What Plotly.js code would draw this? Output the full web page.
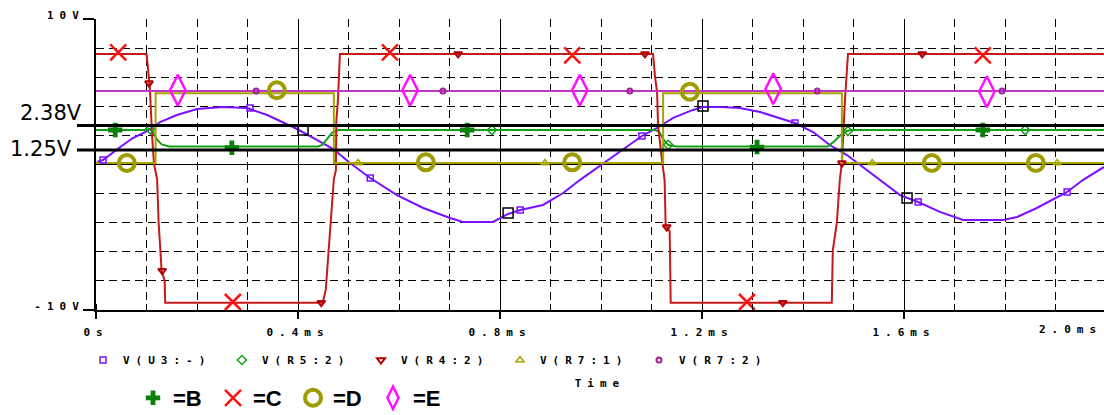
<!DOCTYPE html>
<html>
<head>
<meta charset="utf-8">
<script src="https://cdn.plot.ly/plotly-3.0.1.min.js"></script>
<style>
  html, body { margin: 0; padding: 0; background: #ffffff; }
  #chart { width: 1104px; height: 415px; }
  .xtick text, .ytick text, .g-xtitle text, .legend .legendtext { letter-spacing: 6px; }
  .annotation[data-index="2"] text { letter-spacing: 6px; }
</style>
</head>
<body>
<div id="chart"></div>
<script>
// ---------- x tick labels ----------
const tickVals = [0, 0.4, 0.8, 1.2, 1.6];
const tickText = ['0s', '0.4ms', '0.8ms', '1.2ms', '1.6ms'];

// ---------- V(U3:-) purple (time in ms, volts) ----------
const purpleT = [0.002, 0.014, 0.048, 0.073, 0.101, 0.127, 0.160, 0.200, 0.251, 0.299, 0.339, 0.370, 0.398, 0.438, 0.463, 0.477, 0.503, 0.543, 0.596, 0.648, 0.701, 0.727, 0.786, 0.816, 0.840, 0.885, 0.925, 0.958, 0.998, 1.038, 1.081, 1.111, 1.143, 1.182, 1.202, 1.236, 1.275, 1.315, 1.354, 1.384, 1.420, 1.453, 1.487, 1.513, 1.552, 1.592, 1.628, 1.671, 1.717, 1.796, 1.824, 1.863, 1.923, 1.954, 1.996];
const purpleV = [0.17, 0.31, 1.20, 1.82, 2.30, 2.92, 3.40, 3.81, 3.95, 3.88, 3.40, 2.92, 2.44, 1.68, 1.20, 0.86, 0.10, -0.93, -2.10, -2.99, -3.68, -3.95, -3.95, -3.40, -3.13, -2.78, -1.96, -1.07, -0.10, 0.86, 1.96, 2.51, 3.20, 3.75, 3.95, 3.95, 3.88, 3.61, 3.20, 2.85, 2.23, 1.34, 0.65, -0.03, -1.07, -2.10, -2.58, -3.26, -3.81, -3.81, -3.61, -2.99, -1.89, -1.07, -0.17];
const purpleMarkT = [0.014, 0.305, 0.543, 0.840, 1.081, 1.384, 1.628, 1.923];
const purpleMarkV = [0.31, 3.88, -0.93, -3.13, 1.96, 2.85, -2.58, -1.89];
const purpleBoxT = [0.410, 0.816, 1.202, 1.606];
const purpleBoxV = [2.37, -3.33, 4.02, -2.30];

// ---------- V(R5:2) green (B) ----------
const greenT = [0, 0.097, 0.105, 0.112, 0.121, 0.130, 0.145, 0.440, 0.448, 0.458, 0.468, 0.480, 1.108, 1.115, 1.124, 1.133, 1.150, 1.449, 1.462, 1.475, 1.486, 1.497, 1.996];
const greenV = [2.37, 2.37, 2.45, 2.30, 1.70, 1.38, 1.24, 1.24, 1.35, 1.80, 2.20, 2.37, 2.37, 2.25, 1.70, 1.35, 1.24, 1.24, 1.60, 2.05, 2.30, 2.37, 2.37];
const greenMarkT = [0.107, 0.784, 1.133, 1.489, 1.840];
const greenMarkV = [2.42, 2.37, 1.35, 2.30, 2.37];
const bSymT = [0.038, 0.269, 0.735, 1.309, 1.756];
const bSymV = [2.37, 1.15, 2.37, 1.20, 2.37];

// ---------- V(R4:2) red (C) ----------
const redT = [0, 0.100, 0.103, 0.107, 0.111, 0.115, 0.121, 0.124, 0.130, 0.136, 0.137, 0.449, 0.455, 0.461, 0.471, 0.475, 0.476, 0.479, 0.483, 1.103, 1.107, 1.111, 1.113, 1.120, 1.126, 1.128, 1.136, 1.138, 1.457, 1.459, 1.467, 1.473, 1.477, 1.483, 1.489, 1.996];
const redV = [7.6, 7.6, 6.6, 5.0, 2.0, 0.0, -1.0, -4.0, -7.3, -8.0, -9.5, -9.5, -8.6, -5.5, -1.0, -0.4, 3.0, 4.4, 7.6, 7.6, 6.0, 5.0, 2.7, 0.5, -1.1, -4.2, -4.6, -9.5, -9.5, -5.9, -4.0, -1.0, 0.1, 4.4, 7.6, 7.6];
const redMarkT = [0.105, 0.131, 0.446, 0.717, 1.087, 1.130, 1.360, 1.477, 1.636];
const redMarkV = [5.6, -7.3, -9.5, 7.6, 7.6, -4.3, -9.5, 0.1, 7.6];
const cSymT = [0.044, 0.271, 0.582, 0.943, 1.289, 1.756];
const cSymV = [7.7, -9.45, 7.7, 7.5, -9.45, 7.5];

// ---------- V(R7:1) olive (D) ----------
const oliveT = [0, 0.118, 0.118, 0.471, 0.471, 1.123, 1.123, 1.477, 1.477, 1.996];
const oliveV = [0.1, 0.1, 4.9, 4.9, 0.1, 0.1, 4.9, 4.9, 0.1, 0.1];
const oliveMarkT = [0.519, 0.889, 1.537, 1.903];
const oliveMarkV = [0.1, 0.1, 0.1, 0.1];
const dSymT = [0.061, 0.358, 0.653, 0.943, 1.176, 1.655, 1.861];
const dSymV = [0.1, 5.1, 0.15, 0.15, 5.0, 0.1, 0.1];

// ---------- V(R7:2) magenta (E) ----------
const magT = [0, 1.996];
const magV = [5.05, 5.05];
const magMarkT = [0.317, 0.687, 1.057, 1.428, 1.794];
const magMarkV = [5.05, 5.05, 5.05, 5.05, 5.05];
const eSymT = [0.162, 0.622, 0.958, 1.341, 1.764];
const eSymV = [5.1, 5.1, 5.1, 5.2, 5.0];

// ---------- colours ----------
const cPurple = '#7a10ff', cGreen = '#14a014', cRed = '#c41a1a', cOlive = '#a6a400', cMag = '#c036c0';

function line(x, y, color) {
  return {x: x, y: y, type: 'scatter', mode: 'lines', line: {color: color, width: 2}, showlegend: false, hoverinfo: 'skip'};
}
function marks(x, y, name, marker, legend) {
  return {x: x, y: y, type: 'scatter', mode: 'markers', name: name, marker: marker, showlegend: !!name, legend: legend || 'legend', hoverinfo: 'skip'};
}

const data = [
  line(purpleT, purpleV, cPurple),
  line(greenT, greenV, cGreen),
  line(redT, redV, cRed),
  line(oliveT, oliveV, cOlive),
  line(magT, magV, cMag),
  marks(purpleBoxT, purpleBoxV, '', {symbol: 'square-open', size: 10, color: '#000', line: {width: 1.5, color: '#000'}}),
  marks(purpleMarkT, purpleMarkV, 'V(U3:-)', {symbol: 'square-open', size: 6, color: cPurple, line: {width: 1.5, color: cPurple}}),
  marks(greenMarkT, greenMarkV, 'V(R5:2)', {symbol: 'diamond-open', size: 7, color: cGreen, line: {width: 1.5, color: cGreen}}),
  marks(redMarkT, redMarkV, 'V(R4:2)', {symbol: 'triangle-down-open', size: 7, color: '#b00000', line: {width: 2, color: '#b00000'}}),
  marks(oliveMarkT, oliveMarkV, 'V(R7:1)', {symbol: 'triangle-up-open', size: 7, color: cOlive, line: {width: 1.5, color: cOlive}}),
  marks(magMarkT, magMarkV, 'V(R7:2)', {symbol: 'circle-open', size: 5, color: '#a020a0', line: {width: 2, color: '#a020a0'}}),
  marks(bSymT, bSymV, '=B', {symbol: 'cross', size: 12, color: '#0a820a', line: {width: 0}}, 'legend2'),
  marks(cSymT, cSymV, '=C', {symbol: 'x-thin', size: 16, color: '#ff1010', line: {width: 2.5, color: '#ff1010'}}, 'legend2'),
  marks(dSymT, dSymV, '=D', {symbol: 'circle-open', size: 16, color: '#9e9c00', line: {width: 4, color: '#9e9c00'}}, 'legend2'),
  marks(eSymT, eSymV, '=E', {symbol: 'diamond-tall-open', size: 22, color: '#ff10ff', line: {width: 2.5, color: '#ff10ff'}}, 'legend2')
];

const monoFont = {family: 'DejaVu Sans Mono', size: 11, color: '#000', weight: 'bold'};
const gridDash = '8px,5px';

const layout = {
  width: 1104, height: 415,
  margin: {l: 96, r: 0, t: 19, b: 5, autoexpand: false},
  paper_bgcolor: '#ffffff', plot_bgcolor: '#ffffff',
  showlegend: true,
  xaxis: {
    range: [0, 1.996], domain: [0, 1], anchor: 'y', automargin: false,
    tickmode: 'array', tickvals: tickVals, ticktext: tickText,
    ticks: 'outside', ticklen: 7, tickwidth: 1.5, tickcolor: '#000',
    ticklabelstandoff: 4,
    showline: true, linewidth: 2, linecolor: '#000',
    showgrid: true, gridcolor: '#000', gridwidth: 1, zeroline: false,
    minor: {tickmode: 'linear', tick0: 0, dtick: 0.1, ticks: 'inside', ticklen: 6, tickcolor: '#000', tickwidth: 1,
            showgrid: true, gridcolor: '#000', gridwidth: 1, griddash: gridDash},
    tickfont: monoFont,
    title: {text: 'Time', font: monoFont, standoff: 41},
    fixedrange: true
  },
  yaxis: {
    range: [-10, 10], domain: [100 / 391, 1], anchor: 'x', automargin: false,
    tickmode: 'array', tickvals: [-10, 10], ticktext: ['-10V', '10V'],
    ticks: 'outside', ticklen: 11, tickwidth: 1.5, tickcolor: '#000',
    ticklabelshift: -4, ticklabelstandoff: -4,
    showline: true, linewidth: 2, linecolor: '#000',
    showgrid: false, zeroline: true, zerolinecolor: '#000', zerolinewidth: 1,
    minor: {tickmode: 'linear', tick0: 0, dtick: 2, ticks: '', showgrid: true, gridcolor: '#000', gridwidth: 1, griddash: gridDash},
    tickfont: monoFont,
    fixedrange: true
  },
  legend: {
    orientation: 'h', x: (778 - 96) / 1008, xanchor: 'right', y: (410 - 360) / 391, yanchor: 'middle',
    entrywidthmode: 'pixels', entrywidth: 94, font: monoFont, bgcolor: 'rgba(0,0,0,0)', borderwidth: 0
  },
  legend2: {
    orientation: 'h', x: (133 - 96) / 1008, xanchor: 'left', y: (410 - 398) / 391, yanchor: 'middle',
    entrywidthmode: 'pixels', entrywidth: 35, font: {family: 'Liberation Sans', size: 22, color: '#000', weight: 'bold'},
    bgcolor: 'rgba(0,0,0,0)', borderwidth: 0
  },
  shapes: [
    {type: 'line', xref: 'paper', yref: 'paper', x0: (77 - 96) / 1008, x1: 1, y0: (410 - 125.5) / 391, y1: (410 - 125.5) / 391, line: {color: '#000', width: 3}},
    {type: 'line', xref: 'paper', yref: 'paper', x0: (77 - 96) / 1008, x1: 1, y0: (410 - 150) / 391, y1: (410 - 150) / 391, line: {color: '#000', width: 3}}
  ],
  annotations: [
    {text: '2.38V', xref: 'paper', yref: 'paper', x: (18 - 96) / 1008, y: (410 - 113) / 391, xanchor: 'left', yanchor: 'middle', showarrow: false,
     font: {family: 'DejaVu Sans', size: 21, color: '#000'}},
    {text: '1.25V', xref: 'paper', yref: 'paper', x: (8 - 96) / 1008, y: (410 - 149) / 391, xanchor: 'left', yanchor: 'middle', showarrow: false,
     font: {family: 'DejaVu Sans', size: 21, color: '#000'}},
    {text: '2.0ms', xref: 'paper', yref: 'paper', x: 0.985, y: (410 - 329) / 391, xanchor: 'right', yanchor: 'middle', showarrow: false,
     font: monoFont}
  ]
};

Plotly.newPlot('chart', data, layout, {staticPlot: true, displayModeBar: false});
</script>
</body>
</html>
